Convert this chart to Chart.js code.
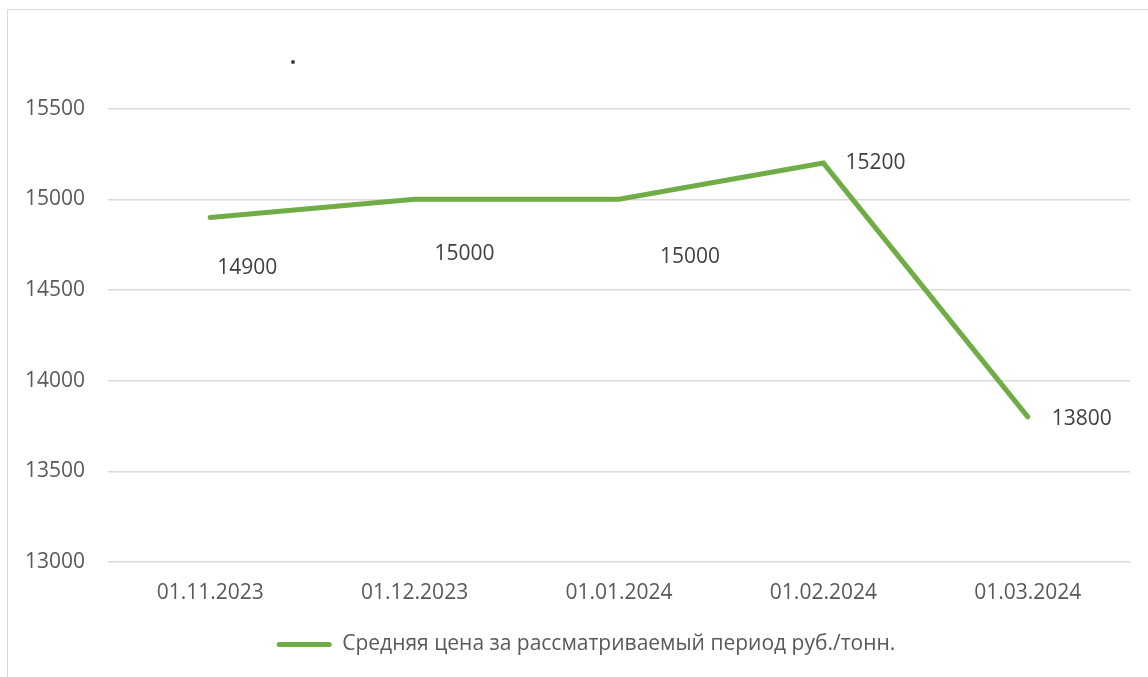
<!DOCTYPE html>
<html>
<head>
<meta charset="utf-8">
<script src="https://cdn.jsdelivr.net/npm/chart.js@4"></script>
<style>
  html, body { margin: 0; padding: 0; background: #fff; overflow: hidden; }
  .frame { position: absolute; left: 7px; top: 9px; width: 1200px; height: 720px; border: 1px solid #d9d9d9; }
  .wrap { position: absolute; left: 0; top: 0; width: 1148px; height: 677px; }
</style>
</head>
<body>
<div class="frame"></div>
<div class="wrap"><canvas id="chart"></canvas></div>
<script>
// Data
const categories = ['01.11.2023', '01.12.2023', '01.01.2024', '01.02.2024', '01.03.2024'];
const prices = [14900, 15000, 15000, 15200, 13800];
const yTicks = [13000, 13500, 14000, 14500, 15000, 15500];
const seriesName = 'Средняя цена за рассматриваемый период руб./тонн.';

// Label placement (pixel offsets from each point, as in the source)
const labelOffsets = [[37, 51], [50, 55], [71, 58], [52, 0], [54, 2]];

const GREEN = '#70AD47';
const FONT = "'Open Sans', sans-serif";

/**
 * Draw the value labels next to each point, plus the stray dot from the source.
 */
const valueLabels = {
  id: 'valueLabels',
  afterDatasetsDraw(chart) {
    const ctx = chart.ctx;
    const meta = chart.getDatasetMeta(0);
    ctx.save();
    ctx.font = `21px ${FONT}`;
    ctx.fillStyle = '#404040';
    ctx.textAlign = 'center';
    ctx.textBaseline = 'middle';
    meta.data.forEach((pt, i) => {
      const [dx, dy] = labelOffsets[i];
      ctx.fillText(String(prices[i]), pt.x + dx, pt.y + dy);
    });
    // small dot seen above the plot
    ctx.beginPath();
    ctx.arc(293, 62, 2, 0, Math.PI * 2);
    ctx.fill();
    ctx.restore();
  }
};

new Chart(document.getElementById('chart'), {
  type: 'line',
  data: {
    labels: categories,
    datasets: [{
      label: seriesName,
      data: prices,
      borderColor: GREEN,
      backgroundColor: GREEN,
      borderWidth: 5,
      borderCapStyle: 'round',
      pointRadius: 0,
      pointHoverRadius: 0,
      tension: 0,
      fill: false
    }]
  },
  options: {
    responsive: true,
    maintainAspectRatio: false,
    animation: false,
    layout: { padding: { left: 42, right: 18, top: 18, bottom: 12 } },
    plugins: {
      tooltip: { enabled: false },
      legend: {
        position: 'bottom',
        labels: {
          boxWidth: 55,
          boxHeight: 5,
          useBorderRadius: true,
          borderRadius: 2.5,
          padding: 10,
          color: '#595959',
          font: { family: FONT, size: 21 },
          generateLabels: chart =>
            Chart.defaults.plugins.legend.labels.generateLabels(chart)
              .map(l => ({ ...l, lineWidth: 0, fillStyle: GREEN, strokeStyle: GREEN }))
        }
      }
    },
    scales: {
      x: {
        offset: true,
        grid: { display: false, drawTicks: false },
        border: { display: false },
        ticks: { color: '#595959', padding: 18, font: { family: FONT, size: 21 }, maxRotation: 0 },
        afterFit: scale => { scale.height = 62; }
      },
      y: {
        min: 13000,
        max: 16000,
        afterBuildTicks: scale => { scale.ticks = yTicks.map(v => ({ value: v })); },
        grid: { color: '#d9d9d9', lineWidth: 1.5, drawTicks: false },
        border: { display: false },
        ticks: {
          color: '#595959',
          mirror: true,
          padding: -83,
          font: { family: FONT, size: 21 },
          callback: v => String(v)
        },
        afterFit: scale => {
          scale.width = 66;
          scale.paddingTop = 0;
          scale.paddingBottom = 0;
        }
      }
    }
  },
  plugins: [valueLabels]
});
</script>
</body>
</html>
